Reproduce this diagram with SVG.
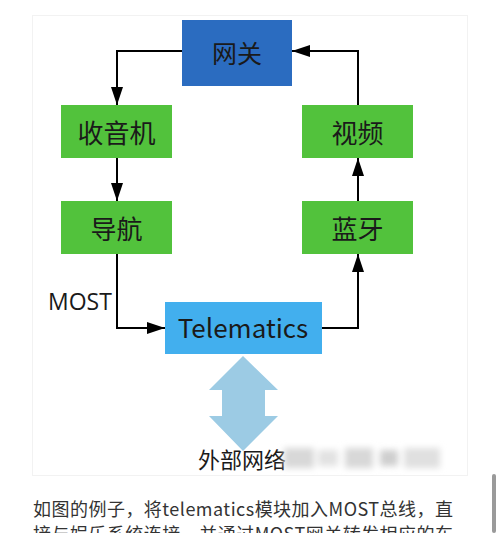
<svg xmlns="http://www.w3.org/2000/svg" width="500" height="533" viewBox="0 0 500 533">
<defs>
<style>
.node text{font-family:"Noto Sans CJK SC","Noto Sans",sans-serif;fill:#1a1a1a;text-anchor:middle;dominant-baseline:central}
.green{fill:#52c23c}
.conn{stroke:#000;stroke-width:2;fill:none}
.para{font-family:"Noto Sans CJK SC","Noto Sans",sans-serif;font-size:18px;fill:#333}
</style>
<marker id="arr" viewBox="0 0 18 12" refX="18" refY="6" markerWidth="18" markerHeight="12" markerUnits="userSpaceOnUse" orient="auto">
<path d="M0,0 L18,6 L0,12 z" fill="#000"/>
</marker>
<filter id="blur" x="-10%" y="-50%" width="120%" height="200%"><feGaussianBlur stdDeviation="3"/></filter>
</defs>
<rect width="500" height="533" fill="#fff"/>
<rect x="32.5" y="15.5" width="435" height="460" fill="#fff" stroke="#f2f2f2"/>

<g id="connectors">
<path class="conn" d="M182,51 H117 V105" marker-end="url(#arr)"/>
<path class="conn" d="M117,158 V201" marker-end="url(#arr)"/>
<path class="conn" d="M117,254 V328 H165" marker-end="url(#arr)"/>
<path class="conn" d="M322,328 H358 V254" marker-end="url(#arr)"/>
<path class="conn" d="M358,201 V158" marker-end="url(#arr)"/>
<path class="conn" d="M358,105 V51 H292" marker-end="url(#arr)"/>
<text x="48" y="310" font-family="'Open Sans','Noto Sans',sans-serif" font-size="23" fill="#1a1a1a">MOST</text>
</g>

<g id="gateway" class="node">
<rect x="182" y="20" width="110" height="66" fill="#2b6cc0"/>
<text x="237" y="52" font-size="25">网关</text>
</g>
<g id="radio" class="node">
<rect class="green" x="61" y="105" width="111" height="53"/>
<text x="116.5" y="131" font-size="26">收音机</text>
</g>
<g id="video" class="node">
<rect class="green" x="302" y="105" width="111" height="53"/>
<text x="357.5" y="131" font-size="26">视频</text>
</g>
<g id="nav" class="node">
<rect class="green" x="61" y="201" width="111" height="53"/>
<text x="116.5" y="227" font-size="26">导航</text>
</g>
<g id="bluetooth" class="node">
<rect class="green" x="302" y="201" width="111" height="53"/>
<text x="357.5" y="227" font-size="26">蓝牙</text>
</g>
<g id="telematics" class="node">
<rect x="165" y="302" width="157" height="52" fill="#42afee"/>
<text x="243" y="326" font-size="26" font-family="'Open Sans','Noto Sans',sans-serif">Telematics</text>
</g>
<g id="external" class="node">
<polygon points="243,356 278,390 265,390 265,416 278,416 243,451 209,416 222,416 222,390 209,390" fill="#9ccbe4"/>
<text x="242" y="458" font-size="22">外部网络</text>
</g>
<g id="watermark" filter="url(#blur)" fill="#d8d8d8">
<rect x="284" y="448" width="30" height="20"/>
<rect x="318" y="450" width="20" height="16" fill="#e2e2e2"/>
<rect x="345" y="448" width="28" height="20"/>
<rect x="380" y="450" width="18" height="16" fill="#cfcfcf"/>
<rect x="404" y="448" width="36" height="20" fill="#e0e0e0"/>
</g>

<text class="para" x="33" y="516" textLength="420" lengthAdjust="spacing">如图的例子，将telematics模块加入MOST总线，直</text>
<text class="para" x="33" y="541" textLength="420" lengthAdjust="spacing">接与娱乐系统连接，并通过MOST网关转发相应的车</text>
<rect x="492" y="474" width="4" height="59" rx="2" fill="#9a9a9a"/>
</svg>
